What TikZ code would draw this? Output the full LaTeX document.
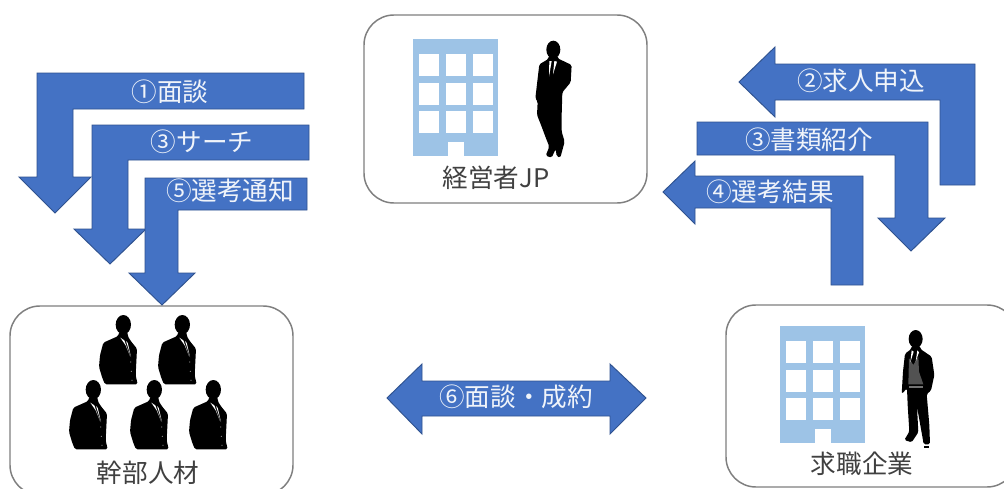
\documentclass[tikz,border=0pt]{standalone}
\usepackage{fontspec}
\setmainfont{Noto Sans CJK JP}
\definecolor{arrowblue}{HTML}{4472C4}
\definecolor{arrowedge}{HTML}{2F528F}
\definecolor{buildblue}{HTML}{9DC3E6}
\definecolor{boxedge}{HTML}{7F7F7F}
\definecolor{labelgrey}{HTML}{404040}
\tikzset{
  blockarrow/.style={fill=arrowblue,draw=arrowedge,line width=0.7pt,line join=miter},
  panel/.style={draw=boxedge,fill=white,line width=1.1pt,rounded corners=22.5pt},
  arrowtext/.style={text=white!92!arrowblue,font=\fontsize{19.2pt}{21pt}\selectfont,inner sep=0pt},
  paneltext/.style={text=labelgrey,font=\fontsize{19.2pt}{21pt}\selectfont,inner sep=0pt},
  buildingfill/.style={fill=buildblue,draw=none},
  windowfill/.style={fill=white,draw=none},
  shadow/.style={fill=black,draw=none,rounded corners=1.2pt}
}
\newcommand{\buildingat}[2]{%
  \begin{scope}[shift={(#1,#2)}]
    \fill[buildingfill] (0,0) rectangle (85,117);
    \foreach \wx in {6,33,60}
      \foreach \wy in {15,43.5,72}
        \fill[windowfill] (\wx,\wy) rectangle ++(20,22);
    \fill[windowfill] (35,103) rectangle (51,117);
  \end{scope}}
\newcommand{\bustat}[2]{%
  \begin{scope}[shift={(#1,#2)},x=0.25pt,y=-0.25pt]
    \fill[shadow] (85,38) ellipse [x radius=23,y radius=29];
    \fill[shadow] (72,60) -- (70,72) -- (25,92) -- (15,130) -- (12,165) -- (22,198) -- (30,217) -- (128,217) -- (122,190) -- (126,110) -- (108,88) -- (98,72) -- (98,60) -- cycle;
    \fill[white] (76,77) -- (88,85) -- (105,132) -- (92,100) -- cycle;
    \fill[white] (93,87) -- (98,92) -- (108,135) -- cycle;
    \fill[white!55!black] (107,150) circle (1.8) (109,178) circle (1.8) (111,205) circle (1.8);
  \end{scope}}
\begin{document}
\begin{tikzpicture}[x=0.75pt,y=-0.75pt]
\useasboundingbox (0,0) rectangle (1004,489);
\clip (0,0) rectangle (1004,489);
\fill[white] (0,0) rectangle (1004,489);

% panels
\draw[panel] (364,15) rectangle (647,203);
\draw[panel] (10,306) rectangle (293,495);
\draw[panel] (726,305) rectangle (1017,487);

% buildings
\buildingat{413}{39}
\buildingat{780}{326}

% man leaning, top panel
\begin{scope}[shift={(525,35)},x=0.25pt,y=-0.25pt]
  \fill[shadow] (85,44) ellipse [x radius=21,y radius=27];
  \fill[shadow] (72,62) -- (70,72) -- (43,88) -- (38,130) -- (31,190) -- (38,200) -- (36,240) -- (48,270) -- (63,310) -- (73,335) -- (62,362) -- (80,368) -- (92,342) -- (95,364) -- (106,368) -- (119,320) -- (110,290) -- (110,240) -- (112,172) -- (137,142) -- (140,90) -- (98,70) -- (97,62) -- cycle;
  \fill[white] (73,78) -- (80,78) -- (72,125) -- cycle;
  \fill[white] (88,78) -- (96,80) -- (84,118) -- cycle;
\end{scope}

% man standing, right panel
\begin{scope}[shift={(895,325)},x=0.25pt,y=-0.25pt]
  \fill[shadow] (62,42) ellipse [x radius=21,y radius=27];
  \fill[shadow] (50,62) -- (49,72) -- (30,86) -- (24,140) -- (20,207) -- (36,190) -- (38,240) -- (43,320) -- (28,345) -- (50,352) -- (70,322) -- (66,245) -- (83,340) -- (86,358) -- (105,358) -- (103,300) -- (95,207) -- (108,197) -- (118,150) -- (110,95) -- (76,72) -- (75,62) -- cycle;
  \fill[black!68] (42,100) -- (55,120) -- (70,95) -- (72,140) -- (85,178) -- (40,178) -- cycle;
  \fill[white] (50,76) -- (56,80) -- (46,112) -- cycle;
  \fill[white] (67,76) -- (72,82) -- (62,110) -- cycle;
  \fill[black!55] (42,182) rectangle (85,189);
  \fill[black] (88,364) rectangle (103,369);
\end{scope}

% group of five
\bustat{95}{312}
\bustat{154}{312}
\bustat{65}{377}
\bustat{126}{377}
\bustat{185}{377}

% left arrows
\draw[blockarrow] (37,73) -- (304,73) -- (304,109) -- (73,109) -- (73,177) -- (91,177) -- (55,213) -- (19,177) -- (37,177) -- cycle;
\draw[blockarrow] (92,125) -- (309,125) -- (309,160) -- (128,160) -- (128,229) -- (146,229) -- (110,264) -- (74,229) -- (92,229) -- cycle;
\draw[blockarrow] (145,178) -- (307,178) -- (307,210) -- (178,210) -- (178,273) -- (195,273) -- (162,305) -- (129,273) -- (145,273) -- cycle;

% right arrows
\draw[blockarrow] (739,82) -- (775,47) -- (775,64) -- (975,64) -- (975,185) -- (940,185) -- (940,100) -- (775,100) -- (775,117) -- cycle;
\draw[blockarrow] (697,122) -- (928,122) -- (928,218) -- (945,218) -- (911,251) -- (878,218) -- (895,218) -- (895,155) -- (697,155) -- cycle;
\draw[blockarrow] (663,192) -- (695,161) -- (695,176) -- (863,176) -- (863,285) -- (831,285) -- (831,208) -- (695,208) -- (695,224) -- cycle;

% double arrow
\draw[blockarrow] (387,398) -- (422,364) -- (422,381) -- (610,381) -- (610,364) -- (646,398) -- (610,434) -- (610,416) -- (422,416) -- (422,434) -- cycle;

% labels
\node[arrowtext] (t1) at (170,92) {①面談};
\node[arrowtext] (t3a) at (202,142) {③サーチ};
\node[arrowtext] (t5) at (230,191) {⑤選考通知};
\node[arrowtext] (t2) at (861,81) {②求人申込};
\node[arrowtext] (t3b) at (809,140) {③書類紹介};
\node[arrowtext] (t4) at (770,192) {④選考結果};
\node[arrowtext] (t6) at (516,397) {⑥面談・成約};
\node[paneltext] (p1) at (496,178) {経営者JP};
\node[paneltext] (p2) at (148,473) {幹部人材};
\node[paneltext] (p3) at (862,464) {求職企業};
\end{tikzpicture}
\end{document}
